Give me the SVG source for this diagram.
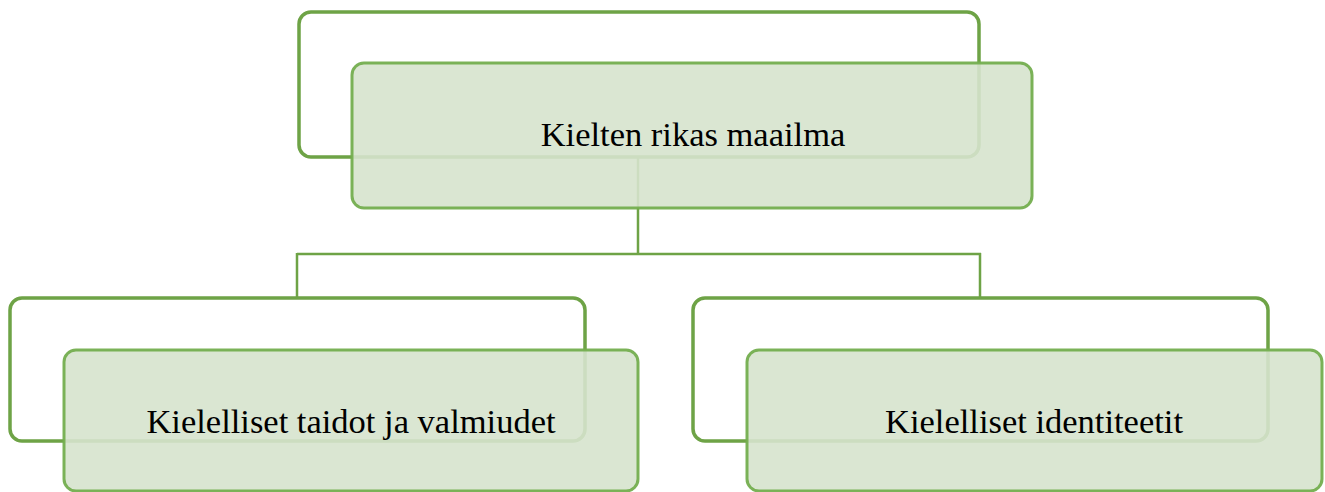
<svg xmlns="http://www.w3.org/2000/svg" width="1325" height="492" viewBox="0 0 1325 492">
<style>
.back{fill:#ffffff;stroke:#6ea346;stroke-width:3.5}
.front{fill:#d6e3cd;fill-opacity:0.9;stroke:#74ae4f;stroke-opacity:0.95;stroke-width:3}
.conn{fill:none;stroke:#6ea346;stroke-width:2.5}
.lbl{font-family:"Liberation Serif","Times New Roman",serif;font-size:34.5px;fill:#000000;text-anchor:middle}
</style>
<g id="back-root"><rect class="back" x="299" y="12" width="680" height="145" rx="12"/></g>
<g id="back-left"><rect class="back" x="10" y="298" width="575" height="143" rx="12"/></g>
<g id="back-right"><rect class="back" x="693" y="298" width="575" height="143" rx="12"/></g>
<g id="connectors">
<path class="conn" d="M638,157 V254 M297,254 H981 M297,253 V298 M980,253 V298"/>
</g>
<g id="root"><rect class="front" x="352" y="63" width="680" height="145" rx="12"/><text class="lbl" x="693" y="146">Kielten rikas maailma</text></g>
<g id="left"><rect class="front" x="64" y="350" width="574" height="141" rx="12"/><text class="lbl" x="351" y="433">Kielelliset taidot ja valmiudet</text></g>
<g id="right"><rect class="front" x="747" y="350" width="575" height="141" rx="12"/><text class="lbl" x="1034" y="433">Kielelliset identiteetit</text></g>
</svg>
